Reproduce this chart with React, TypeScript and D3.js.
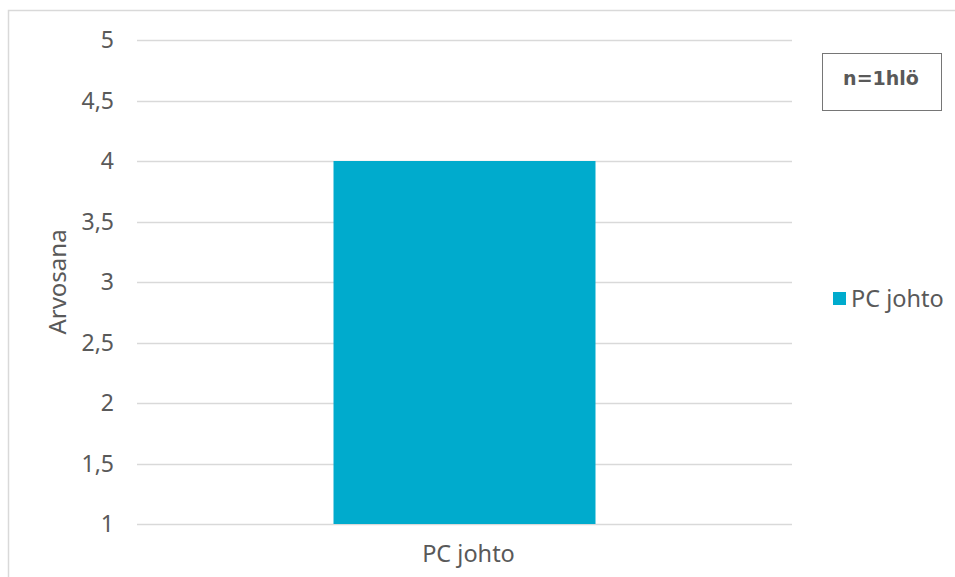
import React, { useEffect, useRef } from "react";
import * as d3 from "d3";

const categories = ["PC johto"];
const values = [4];
const yTicks = [1, 1.5, 2, 2.5, 3, 3.5, 4, 4.5, 5];
const seriesName = "PC johto";
const yTitle = "Arvosana";
const noteText = "n=1hlö";

export default function App() {
  const ref = useRef<SVGSVGElement>(null);
  useEffect(() => {
    const svg = d3.select(ref.current);
    svg.selectAll("*").remove();
    const font = "'Noto Sans', 'Open Sans', sans-serif";
    const textColor = "#595959";
    // chart frame
    svg.append("rect").attr("x", 8.5).attr("y", 10.5).attr("width", 960).attr("height", 600)
      .attr("fill", "#fff").attr("stroke", "#d9d9d9").attr("stroke-width", 1.5);

    const x0 = 137, x1 = 792, yTop = 40, yBot = 524;
    const y = d3.scaleLinear().domain([1, 5]).range([yBot, yTop]);
    const x = d3.scaleBand<string>().domain(categories).range([x0, x1]).paddingInner(0.4286).paddingOuter(0.4286);

    const g = svg.append("g");
    g.selectAll("line.grid").data(yTicks).enter().append("line")
      .attr("x1", x0).attr("x2", x1)
      .attr("y1", d => Math.round(y(d)) + 0.5).attr("y2", d => Math.round(y(d)) + 0.5)
      .attr("stroke", "#d9d9d9").attr("stroke-width", 1.5);

    g.selectAll("text.tick").data(yTicks).enter().append("text")
      .attr("x", 114).attr("y", d => y(d)).attr("dy", "0.36em")
      .attr("text-anchor", "end").attr("font-family", font).attr("font-size", 23)
      .attr("fill", textColor).text(d => String(d).replace(".", ","));

    g.selectAll("rect.bar").data(values).enter().append("rect")
      .attr("x", (_, i) => x(categories[i])!).attr("width", x.bandwidth())
      .attr("y", d => y(d)).attr("height", d => y(1) - y(d))
      .attr("fill", "#00ABCD");

    g.selectAll("text.cat").data(categories).enter().append("text")
      .attr("x", d => x(d)! + x.bandwidth() / 2 + 4).attr("y", 562)
      .attr("text-anchor", "middle").attr("font-family", font).attr("font-size", 23.5)
      .attr("fill", textColor).text(d => d);

    g.append("text")
      .attr("transform", `translate(66, ${(yTop + yBot) / 2}) rotate(-90)`)
      .attr("text-anchor", "middle").attr("font-family", font).attr("font-size", 24)
      .attr("fill", textColor).text(yTitle);

    // legend
    g.append("rect").attr("x", 833).attr("y", 292).attr("width", 13).attr("height", 13).attr("fill", "#00ABCD");
    g.append("text").attr("x", 851).attr("y", 307).attr("font-family", font).attr("font-size", 23.5)
      .attr("fill", textColor).text(seriesName);

    // note box
    g.append("rect").attr("x", 822.5).attr("y", 53.5).attr("width", 119).attr("height", 57)
      .attr("fill", "#fff").attr("stroke", "#767676").attr("stroke-width", 1);
    g.append("text").attr("x", 881).attr("y", 85).attr("text-anchor", "middle")
      .attr("font-family", "'DejaVu Sans', Verdana, sans-serif").attr("font-weight", "bold").attr("font-size", 19)
      .attr("fill", textColor).text(noteText);
  }, []);
  return (
    <div style={{ position: "absolute", left: 0, top: 0 }}>
      <svg ref={ref} width={955} height={577} style={{ display: "block" }} />
    </div>
  );
}
